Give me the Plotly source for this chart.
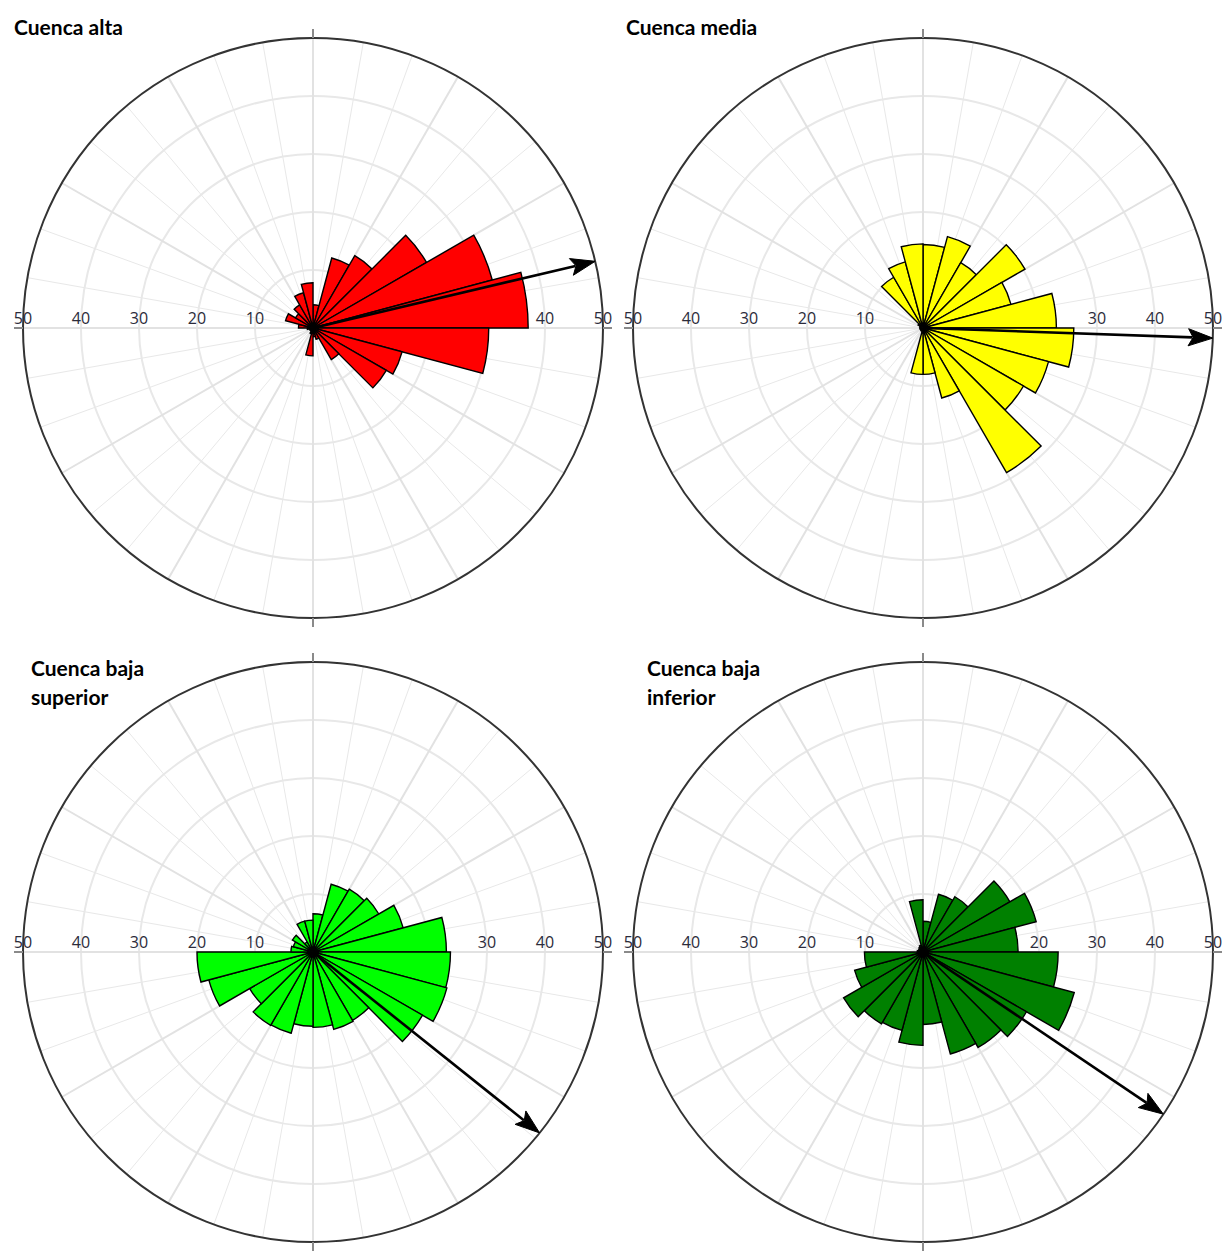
import plotly.graph_objects as go

# 15-degree direction classes (bearing of each class centre, clockwise from north)
sector_deg = [7.5, 22.5, 37.5, 52.5, 67.5, 82.5, 97.5, 112.5, 127.5, 142.5, 157.5, 172.5,
              187.5, 202.5, 217.5, 232.5, 247.5, 262.5, 277.5, 292.5, 307.5, 322.5, 337.5, 352.5]

# frequency (%) per class for each basin reach
alta = [4.0, 12.5, 14.4, 22.6, 32.0, 37.1, 30.3, 15.9, 14.6, 6.3, 2.0, 1.5,
        4.8, 1.0, 0.6, 0.6, 0.6, 1.0, 2.5, 4.9, 3.5, 4.6, 6.3, 7.8]
media = [14.4, 16.3, 13.0, 20.3, 15.7, 23.0, 26.0, 22.4, 20.0, 28.8, 12.5, 8.0,
         8.0, 0.6, 0.5, 0.5, 0.5, 0.5, 0.5, 0.6, 1.0, 10.1, 11.8, 14.5]
baja_superior = [6.6, 12.1, 12.5, 13.1, 16.1, 23.0, 23.7, 23.9, 21.8, 13.6, 13.8, 13.0,
                 12.8, 14.5, 14.6, 12.6, 18.6, 20.0, 3.8, 3.5, 4.1, 2.0, 5.5, 5.5]
baja_inferior = [5.3, 10.3, 11.0, 17.3, 20.2, 16.4, 23.3, 27.0, 20.6, 19.0, 18.2, 12.5,
                 16.1, 14.0, 14.3, 15.8, 12.2, 10.1, 1.0, 0.8, 0.8, 1.0, 1.2, 9.0]

# mean direction (bearing, degrees) of each reach
mean_dir = {"alta": 76.7, "media": 92.0, "baja_superior": 128.6, "baja_inferior": 124.0}

# radial scale
radial_ticks = [10, 20, 30, 40, 50]
radial_labels = ["10", "20", "30", "40", "50"]
r_max = 50

W, H = 1225, 1256
R_PX = 290  # plot radius in pixels
TICK_PX = 9  # length of the axis stubs outside the circle

panels = [
    dict(key="alta", vals=alta, color="#ff0000", cx=313, cy=328,
         title=["Cuenca alta"], tx=12, ty=27),
    dict(key="media", vals=media, color="#ffff00", cx=923, cy=328,
         title=["Cuenca media"], tx=624, ty=27),
    dict(key="baja_superior", vals=baja_superior, color="#00ff00", cx=313, cy=952,
         title=["Cuenca baja", "superior"], tx=29, ty=667),
    dict(key="baja_inferior", vals=baja_inferior, color="#008000", cx=923, cy=952,
         title=["Cuenca baja", "inferior"], tx=645, ty=667),
]

GRID = "#e8e8e8"
fig = go.Figure()
layout = dict(width=W, height=H, margin=dict(l=0, r=0, t=0, b=0),
              paper_bgcolor="white", showlegend=False, annotations=[], shapes=[])


def px_x(x):
    return x / W


def px_y(y):
    return 1 - y / H


for i, p in enumerate(panels):
    base_id = "polar" if i == 0 else f"polar{2 * i + 1}"
    top_id = f"polar{2 * i + 2}"
    cx, cy = p["cx"], p["cy"]
    dom = dict(x=[px_x(cx - R_PX), px_x(cx + R_PX)],
               y=[px_y(cy + R_PX), px_y(cy - R_PX)])

    # background polar: grid, outer circle, scale labels
    layout[base_id] = dict(
        domain=dom, bgcolor="white",
        angularaxis=dict(rotation=90, direction="clockwise", tickmode="linear",
                         tick0=0, dtick=10, showticklabels=False, ticks="",
                         gridcolor=GRID, gridwidth=1.2,
                         showline=True, linecolor="#333333", linewidth=2),
        radialaxis=dict(range=[0, r_max], tickvals=radial_ticks, showticklabels=False,
                        ticks="", showline=False, gridcolor=GRID, gridwidth=1.6),
    )
    # foreground polar: the rose bars and the mean-direction arrow
    layout[top_id] = dict(
        domain=dom, bgcolor="rgba(0,0,0,0)",
        angularaxis=dict(rotation=90, direction="clockwise", showgrid=False,
                         showline=False, showticklabels=False, ticks=""),
        radialaxis=dict(range=[0, r_max], showgrid=False, showline=False,
                        showticklabels=False, ticks=""),
    )

    # heavier spokes every 30 degrees
    sr, st = [], []
    for a in range(0, 360, 30):
        sr += [0, r_max, None]
        st += [a, a, None]
    fig.add_trace(go.Scatterpolar(r=sr, theta=st, mode="lines", subplot=base_id,
                                  line=dict(color="#e2e2e2", width=2), hoverinfo="skip"))
    # scale labels on both sides of the horizontal axis
    fig.add_trace(go.Scatterpolar(
        r=radial_ticks + radial_ticks, theta=[270] * 5 + [90] * 5,
        text=radial_labels + radial_labels, mode="text", textposition="top center",
        cliponaxis=False, subplot=base_id,
        textfont=dict(family="Open Sans", size=16, color="#2b2b3a"), hoverinfo="skip"))

    # rose bars
    fig.add_trace(go.Barpolar(r=p["vals"], theta=sector_deg, width=[15] * len(sector_deg),
                              subplot=top_id,
                              marker=dict(color=p["color"], line=dict(color="#000000", width=1.4))))

    # mean direction arrow
    m = mean_dir[p["key"]]
    fig.add_trace(go.Scatterpolar(r=[0, r_max - 3.5], theta=[m, m], mode="lines",
                                  subplot=top_id, cliponaxis=False,
                                  line=dict(color="#000000", width=2.6), hoverinfo="skip"))
    fig.add_trace(go.Scatterpolar(
        r=[r_max, r_max - 4.2, r_max - 3.4, r_max - 4.2, r_max],
        theta=[m, m - 1.85, m, m + 1.85, m],
        mode="lines", fill="toself", fillcolor="#000000", subplot=top_id, cliponaxis=False,
        line=dict(color="#000000", width=1), hoverinfo="skip"))

    # short stubs of the main axes outside the circle
    stub = dict(type="line", xref="paper", yref="paper", line=dict(color="#8a8a8a", width=2))
    layout["shapes"] += [
        dict(stub, x0=px_x(cx), x1=px_x(cx), y0=px_y(cy - R_PX), y1=px_y(cy - R_PX - TICK_PX)),
        dict(stub, x0=px_x(cx), x1=px_x(cx), y0=px_y(cy + R_PX), y1=px_y(cy + R_PX + TICK_PX)),
        dict(stub, x0=px_x(cx - R_PX), x1=px_x(cx - R_PX - TICK_PX), y0=px_y(cy), y1=px_y(cy)),
        dict(stub, x0=px_x(cx + R_PX), x1=px_x(cx + R_PX + TICK_PX), y0=px_y(cy), y1=px_y(cy)),
    ]

    # panel title
    for k, line in enumerate(p["title"]):
        layout["annotations"].append(dict(
            text=f"<b>{line}</b>", x=px_x(p["tx"]), y=px_y(p["ty"] + 29 * k),
            xref="paper", yref="paper", xanchor="left", yanchor="middle", showarrow=False,
            font=dict(family="Lato", size=21, color="#000000")))

fig.update_layout(**layout)
fig.write_html("out.html")
